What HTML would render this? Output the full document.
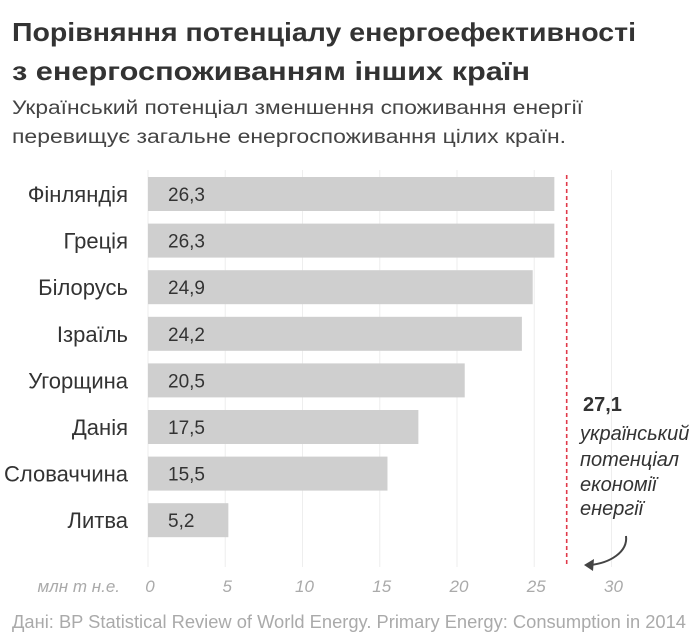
<!DOCTYPE html>
<html><head><meta charset="utf-8"><style>
body{margin:0;background:#fff;}
svg{display:block;font-family:"Liberation Sans","DejaVu Sans",sans-serif;}
</style></head><body>
<svg id="chart" width="700" height="643" viewBox="0 0 700 643">
<text x="12" y="41" font-size="26" font-weight="bold" fill="#333" textLength="624" lengthAdjust="spacingAndGlyphs">Порівняння потенціалу енергоефективності</text>
<text x="12" y="80" font-size="26" font-weight="bold" fill="#333" textLength="518" lengthAdjust="spacingAndGlyphs">з енергоспоживанням інших країн</text>
<text x="12" y="114" font-size="19" fill="#444" textLength="571" lengthAdjust="spacingAndGlyphs">Український потенціал зменшення споживання енергії</text>
<text x="12" y="143" font-size="19" fill="#444" textLength="554" lengthAdjust="spacingAndGlyphs">перевищує загальне енергоспоживання цілих країн.</text>
<g id="grid"></g>
<g id="bars"></g>
<g id="axis"></g>
<text x="120" y="592" font-size="17" font-style="italic" fill="#aaa" text-anchor="end">млн т н.е.</text>
<g id="annot">
<text x="583" y="411" font-size="20" font-weight="bold" fill="#333">27,1</text>
<text font-size="20" font-style="italic" fill="#333">
<tspan x="580" y="440">український</tspan><tspan x="580" y="466">потенціал</tspan><tspan x="580" y="491">економії</tspan><tspan x="580" y="515">енергії</tspan></text>
<path d="M626 536 C628 552 610 563 590 565" fill="none" stroke="#444" stroke-width="2"/>
<path d="M584 565 L594 559 L593 571 Z" fill="#444"/>
</g>
<text x="12" y="628" font-size="18" fill="#aaa" textLength="674" lengthAdjust="spacingAndGlyphs">Дані: BP Statistical Review of World Energy. Primary Energy: Consumption in 2014</text>
</svg>
<script>
const countries=["Фінляндія","Греція","Білорусь","Ізраїль","Угорщина","Данія","Словаччина","Литва"];
const values=[26.3,26.3,24.9,24.2,20.5,17.5,15.5,5.2];
const valueLabels=["26,3","26,3","24,9","24,2","20,5","17,5","15,5","5,2"];
const ticks=[0,5,10,15,20,25,30];
const ukraineValue=27.1;
const NS="http://www.w3.org/2000/svg";
const x=v=>148+v*15.45;
const yTop=i=>177+i*46.6;
const barH=34;
function mk(tag,attrs,parent){const e=document.createElementNS(NS,tag);for(const k in attrs)e.setAttribute(k,attrs[k]);parent.appendChild(e);return e;}
const grid=document.getElementById('grid'),bars=document.getElementById('bars'),axis=document.getElementById('axis');
ticks.forEach(t=>{
  const l=mk('line',{x1:x(t),x2:x(t),y1:170,y2:567,stroke:'#eee','stroke-width':1},grid);
  
  
  const tx=mk('text',{x:x(t)+2,y:592,'font-size':17,'font-style':'italic',fill:'#aaa','text-anchor':'middle'},axis);
  tx.textContent=t;
  
  
});
countries.forEach((c,i)=>{
  const r=mk('rect',{x:x(0),y:yTop(i),width:x(values[i])-x(0),height:barH,fill:'#cfcfcf'},bars);
  
  
  const lb=mk('text',{x:128,y:yTop(i)+25,'font-size':22,fill:'#333','text-anchor':'end'},bars);
  lb.textContent=c;
  
  
  const vl=mk('text',{x:168,y:yTop(i)+24,'font-size':19,fill:'#333'},bars);
  vl.textContent=valueLabels[i];
  
  
});
const dl=mk('line',{x1:x(ukraineValue),x2:x(ukraineValue),y1:175,y2:567,stroke:'#e03a4a','stroke-width':1.6,'stroke-dasharray':'4,3'},grid);


</script>
</body></html>
